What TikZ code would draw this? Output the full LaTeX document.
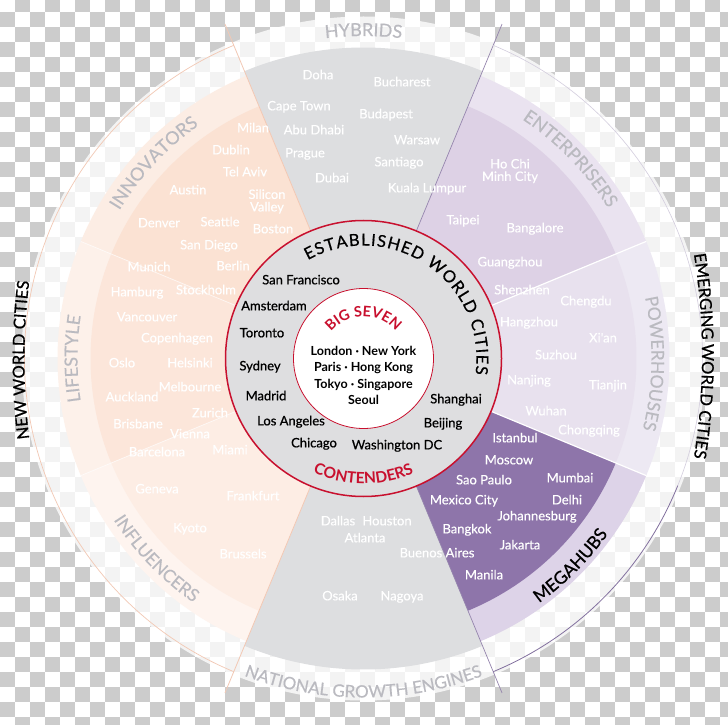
\documentclass[tikz,border=0pt]{standalone}
\usepackage{fontspec}
\setmainfont{Lato}
\newfontfamily\semib{Lato}[FakeBold=0.7]
\newfontfamily\medf{Lato}[FakeBold=0.35]
\usetikzlibrary{decorations.text}
\definecolor{checkgray}{RGB}{204,204,204}
\definecolor{sectgray}{RGB}{221,222,224}
\definecolor{ringgray}{RGB}{222,222,224}
\definecolor{innoIn}{RGB}{251,226,211}
\definecolor{innoBand}{RGB}{252,237,228}
\definecolor{lifeIn}{RGB}{252,230,218}
\definecolor{lifeBand}{RGB}{253,241,234}
\definecolor{inflIn}{RGB}{253,237,228}
\definecolor{inflBand}{RGB}{254,244,239}
\definecolor{entIn}{RGB}{221,209,229}
\definecolor{entBand}{RGB}{234,227,240}
\definecolor{powIn}{RGB}{232,225,238}
\definecolor{powBand}{RGB}{237,233,243}
\definecolor{megIn}{RGB}{142,117,170}
\definecolor{megBand}{RGB}{221,211,232}
\definecolor{cred}{RGB}{200,16,46}
\definecolor{labgray}{RGB}{186,186,192}
\definecolor{peachline}{RGB}{242,200,180}
\definecolor{purpline}{RGB}{130,112,158}
\newcommand\annsec[5]{\fill[#1] (#2:#4) arc[start angle=#2,end angle=#3,radius=#4] -- (#3:#5) arc[start angle=#3,end angle=#2,radius=#5] -- cycle;}
\newcommand\arctext[7]{\path[decorate,decoration={text along path,text color=#1,text={|#2|#3},text align=#7}] (#5:#4) arc[start angle=#5,end angle=#6,radius=#4];}
\begin{document}
\begin{tikzpicture}[x=1pt,y=1pt,
  city/.style={text=white,font=\medf\fontsize{13}{13}\selectfont,inner sep=0pt,text height=9.5pt,text depth=2.8pt},
  city2/.style={text=white,font=\medf\fontsize{13}{12.5}\selectfont,inner sep=0pt,align=center},
  est/.style={city,text=black,font=\semib\fontsize{13}{13}\selectfont},
  big/.style={text=black,font=\bfseries\fontsize{12.5}{12.5}\selectfont,inner sep=0pt,text height=9.5pt,text depth=2.8pt}]
\useasboundingbox (0,0) rectangle (728,724);
\fill[white] (0,0) rectangle (728,724);
\foreach \r in {0,...,48}{\foreach \c in {0,...,48}{\ifodd\numexpr\r+\c\relax \fill[checkgray] ({15*\c},{712-15*\r}) rectangle ++(15,15);\fi}}
\begin{scope}[shift={(363.5,365.5)}]
  \fill[white,opacity=0.78] (0,0) circle[radius=342pt];
  % gray sectors
  \annsec{sectgray}{67.5}{112.5}{137pt}{311pt}
  \annsec{sectgray}{247.5}{292.5}{137pt}{311pt}
  % new world cities
  \annsec{innoBand}{112.5}{157.5}{137pt}{306pt}
  \annsec{innoIn}{112.5}{157.5}{137pt}{273pt}
  \annsec{lifeBand}{157.5}{202.5}{137pt}{306pt}
  \annsec{lifeIn}{157.5}{202.5}{137pt}{273pt}
  \annsec{inflBand}{202.5}{247.5}{137pt}{306pt}
  \annsec{inflIn}{202.5}{247.5}{137pt}{273pt}
  % emerging world cities
  \annsec{entBand}{22.5}{67.5}{137pt}{306pt}
  \annsec{entIn}{22.5}{67.5}{137pt}{273pt}
  \annsec{powBand}{-22.5}{22.5}{137pt}{306pt}
  \annsec{powIn}{-22.5}{22.5}{137pt}{273pt}
  \annsec{megBand}{-67.5}{-22.5}{137pt}{306pt}
  \annsec{megIn}{-67.5}{-22.5}{137pt}{273pt}
  % separators
  \foreach \a in {22.5,-22.5} \draw[white,line width=1.2pt] (\a:138pt) -- (\a:306pt);
  \foreach \a in {157.5,202.5} \draw[white,opacity=0.6,line width=0.8pt] (\a:138pt) -- (\a:306pt);
  \foreach \a in {112.5,247.5} \draw[peachline,line width=0.8pt] (\a:138pt) -- (\a:362pt);
  \foreach \a in {67.5,292.5} \draw[purpline!85,line width=0.7pt] (\a:138pt) -- (\a:362pt);
  % outer arcs
  \draw[peachline,line width=0.7pt] (112.5:339pt) arc[start angle=112.5,end angle=247.5,radius=339pt];
  \draw[purpline,line width=0.8pt] (-67.5:339pt) arc[start angle=-67.5,end angle=-22,radius=339pt];
  \draw[purpline!35,line width=0.6pt] (-22:339pt) arc[start angle=-22,end angle=67.5,radius=339pt];
  % established world cities
  \fill[ringgray] (0,0) circle[radius=138pt];
  \draw[cred,line width=1.5pt] (0,0) circle[radius=138pt];
  \fill[white] (0,0) circle[radius=70pt];
  \draw[cred,line width=0.8pt] (0,0) circle[radius=70pt];
  % arc labels
  \arctext{black}{\semib\fontsize{16.5}{16.5}\selectfont}{ESTABLISHED WORLD CITIES}{113pt}{119.5}{-8}{fit to path}
  \arctext{cred}{\bfseries\fontsize{14.5}{14.5}\selectfont}{BIG SEVEN}{42pt}{160}{20}{center}
  \arctext{cred}{\bfseries\fontsize{15.5}{15.5}\selectfont}{CONTENDERS}{125pt}{210}{330}{center}
  \arctext{labgray}{\medf\fontsize{18}{18}\selectfont}{HYBRIDS}{322.5pt}{125}{55}{center}
  \arctext{labgray}{\medf\fontsize{17}{17}\selectfont}{NATIONAL GROWTH ENGINES}{339pt}{215}{325}{center}
  \arctext{labgray}{\medf\fontsize{18}{18}\selectfont}{INNOVATORS}{285.5pt}{172}{102}{center}
  \arctext{labgray}{\medf\fontsize{18}{18}\selectfont}{LIFESTYLE}{286pt}{215}{145}{center}
  \arctext{labgray}{\medf\fontsize{17.5}{17.5}\selectfont}{INFLUENCERS}{297.5pt}{189}{259}{center}
  \arctext{labgray}{\medf\fontsize{18}{18}\selectfont}{ENTERPRISERS}{287pt}{79}{9}{center}
  \arctext{labgray}{\medf\fontsize{17.5}{17.5}\selectfont}{POWERHOUSES}{288pt}{34}{-36}{center}
  \arctext{black}{\semib\fontsize{17.5}{17.5}\selectfont}{MEGAHUBS}{301pt}{-80}{-10}{center}
\end{scope}
% outer group labels
\begin{scope}[shift={(58,368)}]
  \arctext{black}{\semib\fontsize{16.5}{16.5}\selectfont}{EMERGING WORLD CITIES}{644pt}{11}{-11}{center}
\end{scope}
\begin{scope}[shift={(668.5,364)}]
  \arctext{black}{\semib\fontsize{16.5}{16.5}\selectfont}{NEW WORLD CITIES}{644pt}{190}{170}{center}
\end{scope}
% city names (image coordinates)
\begin{scope}[yshift=724pt,yscale=-1]
  % hybrids
  \node[city] (doha) at (318,76) {Doha};
  \node[city] (bucharest) at (402,83) {Bucharest};
  \node[city] (capetown) at (299,107) {Cape Town};
  \node[city] (budapest) at (386,115) {Budapest};
  \node[city] (abudhabi) at (314,131) {Abu Dhabi};
  \node[city] (warsaw) at (417,141) {Warsaw};
  \node[city] (prague) at (305,154) {Prague};
  \node[city] (santiago) at (399,163) {Santiago};
  \node[city] (dubai) at (332,179) {Dubai};
  \node[city] (kuala) at (427,189) {Kuala Lumpur};
  % innovators
  \node[city] (milan) at (253,129) {Milan};
  \node[city] (dublin) at (231,151) {Dublin};
  \node[city] (telaviv) at (245,173) {Tel Aviv};
  \node[city] (austin) at (188,191) {Austin};
  \node[city2] (silicon) at (267,201.5) {Silicon\\Valley};
  \node[city] (denver) at (159,224) {Denver};
  \node[city] (seattle) at (220,223) {Seattle};
  \node[city] (boston) at (273,230) {Boston};
  \node[city] (sandiego) at (209,246) {San Diego};
  \node[city] (munich) at (149,268) {Munich};
  \node[city] (berlin) at (233,267) {Berlin};
  \node[city] (hamburg) at (137,293) {Hamburg};
  \node[city] (stockholm) at (206,291) {Stockholm};
  \node[city] (vancouver) at (147,318) {Vancouver};
  \node[city] (copenhagen) at (177,339) {Copenhagen};
  % lifestyle
  \node[city] (oslo) at (122,364) {Oslo};
  \node[city] (helsinki) at (190,364) {Helsinki};
  \node[city] (melbourne) at (190,388) {Melbourne};
  \node[city] (auckland) at (132,398) {Auckland};
  \node[city] (zurich) at (210,414) {Zurich};
  \node[city] (brisbane) at (138,425) {Brisbane};
  \node[city] (vienna) at (190,435) {Vienna};
  \node[city] (barcelona) at (157,453) {Barcelona};
  \node[city] (miami) at (230,451) {Miami};
  % influencers
  \node[city] (geneva) at (157,490) {Geneva};
  \node[city] (frankfurt) at (253,497) {Frankfurt};
  \node[city] (kyoto) at (190,529) {Kyoto};
  \node[city] (brussels) at (243,555) {Brussels};
  % national growth engines
  \node[city] (dallas) at (338,522) {Dallas};
  \node[city] (houston) at (387,522) {Houston};
  \node[city] (atlanta) at (365,539) {Atlanta};
  \node[city] (buenos) at (437,554) {Buenos Aires};
  \node[city] (osaka) at (340,597) {Osaka};
  \node[city] (nagoya) at (402,597) {Nagoya};
  % enterprisers
  \node[city2] (hochi) at (510,171) {Ho Chi\\Minh City};
  \node[city] (taipei) at (463,221) {Taipei};
  \node[city] (bangalore) at (535,229) {Bangalore};
  \node[city] (guangzhou) at (510,263) {Guangzhou};
  % powerhouses
  \node[city] (shenzhen) at (522,291) {Shenzhen};
  \node[city] (chengdu) at (586,302) {Chengdu};
  \node[city] (hangzhou) at (529,323) {Hangzhou};
  \node[city] (xian) at (603,339) {Xi'an};
  \node[city] (suzhou) at (556,356) {Suzhou};
  \node[city] (nanjing) at (529,381) {Nanjing};
  \node[city] (tianjin) at (608,386) {Tianjin};
  \node[city] (wuhan) at (546,412) {Wuhan};
  \node[city] (chongqing) at (589,431) {Chongqing};
  % megahubs
  \node[city] (istanbul) at (515,439) {Istanbul};
  \node[city] (moscow) at (509,461) {Moscow};
  \node[city] (saopaulo) at (484,481) {Sao Paulo};
  \node[city] (mumbai) at (570,479) {Mumbai};
  \node[city] (mexico) at (464,501) {Mexico City};
  \node[city] (delhi) at (567,501) {Delhi};
  \node[city] (johannesburg) at (537,517) {Johannesburg};
  \node[city] (bangkok) at (467,530) {Bangkok};
  \node[city] (jakarta) at (520,546) {Jakarta};
  \node[city] (manila) at (484,576) {Manila};
  % established world cities
  \node[est] (sanfrancisco) at (301,281) {San Francisco};
  \node[est] (amsterdam) at (274,307) {Amsterdam};
  \node[est] (toronto) at (262,334) {Toronto};
  \node[est] (sydney) at (260,367) {Sydney};
  \node[est] (madrid) at (266,397) {Madrid};
  \node[est] (losangeles) at (291,422) {Los Angeles};
  \node[est] (chicago) at (314,444) {Chicago};
  \node[est] (washington) at (397,446) {Washington DC};
  \node[est] (beijing) at (443,424) {Beijing};
  \node[est] (shanghai) at (456,400) {Shanghai};
  % big seven
  \node[big] (b1) at (363.5,352) {London · New York};
  \node[big] (b2) at (363.5,368.5) {Paris · Hong Kong};
  \node[big] (b3) at (363.5,385) {Tokyo · Singapore};
  \node[big] (b4) at (363.5,401.5) {Seoul};
\end{scope}
\end{tikzpicture}
\end{document}
